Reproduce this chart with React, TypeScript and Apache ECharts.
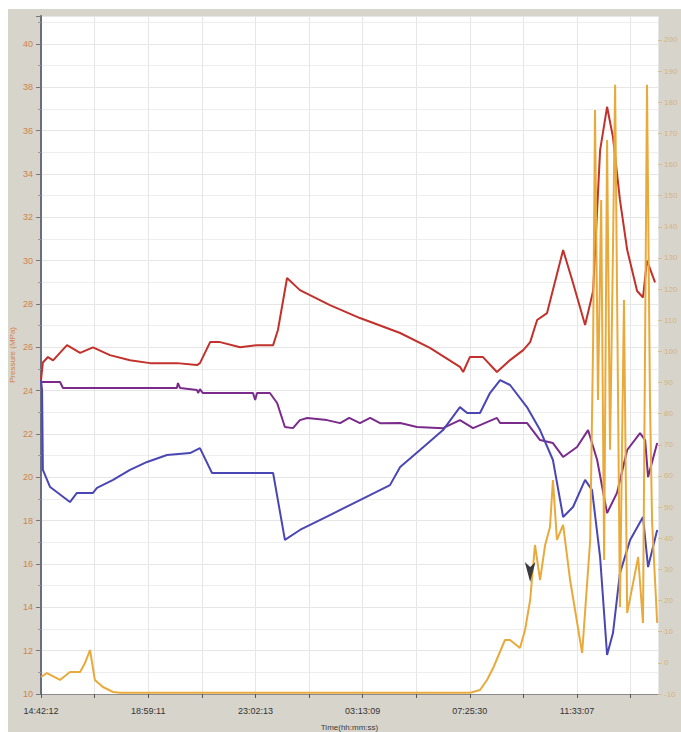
import React, { useEffect, useRef } from "react";
import * as echarts from "echarts";

// x values are elapsed hours from the first sample (each labelled tick = 4 h)
const timeLabels = ["14:42:12", "18:59:11", "23:02:13", "03:13:09", "07:25:30", "11:33:07"];

const redSeries: [number, number][] = [
  [0, 24.5], [0.07, 25.3], [0.26, 25.55], [0.45, 25.4], [0.97, 26.1], [1.46, 25.74], [1.94, 26.0],
  [2.57, 25.64], [3.32, 25.4], [4.07, 25.27], [5.07, 25.27], [5.82, 25.18], [5.93, 25.27],
  [6.31, 26.24], [6.68, 26.24], [7.43, 26.0], [8.06, 26.1], [8.66, 26.1], [8.84, 26.8],
  [9.18, 29.2], [9.66, 28.64], [10.78, 27.95], [11.9, 27.35], [13.4, 26.66], [14.51, 25.97],
  [15.63, 25.1], [15.75, 24.86], [16.0, 25.55], [16.49, 25.55], [17.01, 24.86], [17.5, 25.41],
  [17.99, 25.87], [18.25, 26.24], [18.51, 27.26], [18.88, 27.58], [19.48, 30.49], [19.85, 28.97],
  [20.3, 27.03], [20.6, 28.6], [20.86, 35.1], [21.12, 37.1], [21.34, 35.7], [21.6, 32.8],
  [21.87, 30.5], [22.24, 28.6], [22.46, 28.3], [22.61, 30.0], [22.91, 29.0],
];

const purpleSeries: [number, number][] = [
  [0, 24.4], [0.71, 24.4], [0.82, 24.12], [5.07, 24.12], [5.11, 24.35], [5.19, 24.12],
  [5.82, 24.03], [5.86, 23.89], [5.93, 24.07], [6.04, 23.89], [7.91, 23.89], [7.99, 23.57],
  [8.06, 23.89], [8.54, 23.89], [8.81, 23.43], [9.1, 22.32], [9.4, 22.27], [9.66, 22.64],
  [9.93, 22.74], [10.67, 22.64], [11.16, 22.5], [11.5, 22.74], [11.9, 22.5], [12.28, 22.74],
  [12.65, 22.5], [13.4, 22.51], [14.03, 22.32], [15.0, 22.27], [15.63, 22.64], [16.12, 22.27],
  [17.01, 22.74], [17.13, 22.51], [18.13, 22.51], [18.62, 21.72], [19.1, 21.58], [19.48, 20.94],
  [20.0, 21.4], [20.41, 22.18], [20.75, 20.8], [21.12, 18.35], [21.49, 19.28], [21.87, 21.26],
  [22.35, 22.04], [22.54, 21.72], [22.65, 20.01], [22.99, 21.58],
];

const blueSeries: [number, number][] = [
  [0, 24.5], [0.04, 24.0], [0.07, 20.34], [0.34, 19.55], [1.08, 18.86], [1.34, 19.28],
  [1.94, 19.28], [2.09, 19.51], [2.69, 19.88], [3.32, 20.34], [3.96, 20.71], [4.7, 21.03],
  [5.56, 21.12], [5.93, 21.35], [6.38, 20.2], [8.66, 20.2], [9.1, 17.11], [9.66, 17.57],
  [10.78, 18.26], [11.9, 18.95], [13.02, 19.64], [13.4, 20.48], [14.14, 21.26], [15.0, 22.18],
  [15.63, 23.24], [15.9, 22.97], [16.38, 22.97], [16.75, 23.89], [17.13, 24.49], [17.5, 24.26],
  [18.13, 23.24], [18.62, 22.18], [19.1, 20.8], [19.48, 18.17], [19.85, 18.63], [20.3, 19.88],
  [20.56, 19.41], [20.86, 16.32], [21.12, 11.8], [21.34, 12.81], [21.6, 15.58], [21.98, 17.11],
  [22.46, 18.17], [22.65, 15.86], [22.99, 17.57],
];

const orangeSeries: [number, number][] = [
  [0, -4.54], [0.22, -3.26], [0.71, -5.5], [1.08, -2.94], [1.46, -2.94], [1.64, -0.05],
  [1.83, 4.13], [2.01, -5.5], [2.31, -7.75], [2.69, -9.36], [2.95, -9.6], [16.01, -9.6],
  [16.38, -8.72], [16.64, -5.5], [16.87, -1.65], [17.31, 7.34], [17.5, 7.34], [17.87, 4.77],
  [18.06, 10.55], [18.25, 20.19], [18.43, 37.85], [18.62, 26.6], [18.81, 37.85], [18.99, 43.63],
  [19.1, 58.72], [19.25, 39.45], [19.48, 44.27], [19.74, 26.6], [20.19, 3.17], [20.49, 39.45],
  [20.6, 103.7], [20.67, 177.5], [20.78, 84.4], [20.9, 148.6], [21.01, 33.0], [21.12, 167.9],
  [21.23, 68.4], [21.34, 132.6], [21.42, 185.6], [21.53, 84.4], [21.6, 17.9], [21.75, 116.5],
  [21.87, 16.0], [22.09, 25.6], [22.28, 34.0], [22.46, 12.8], [22.61, 185.6], [22.72, 84.4],
  [22.8, 44.9], [22.99, 12.8],
];

const arrowMark: [number, number] = [18.25, 26];

export default function App() {
  const ref = useRef<HTMLDivElement>(null);
  useEffect(() => {
    if (!ref.current) return;
    const chart = echarts.init(ref.current, undefined, { renderer: "svg" });
    const font = "Liberation Sans";
    chart.setOption({
      animation: false,
      backgroundColor: "#d7d4cc",
      textStyle: { fontFamily: font },
      grid: {
        left: 33, right: 23, top: 7, bottom: 38,
        containLabel: false, outerBoundsMode: "none",
        show: true, backgroundColor: "#ffffff", borderWidth: 0,
      },
      xAxis: {
        type: "value", min: 0, max: 23.02, interval: 2,
        name: "Time(hh:mm:ss)", nameLocation: "middle", nameGap: 29, nameMoveOverlap: false,
        nameTextStyle: { color: "#3a3a3a", fontSize: 8, fontFamily: font },
        axisLine: { show: true, onZero: false, lineStyle: { color: "#8a8a90", width: 1 } },
        axisTick: { show: true, length: 4, lineStyle: { color: "#555" } },
        axisLabel: {
          color: "#333", fontSize: 9, margin: 12, showMaxLabel: false,
          formatter: (v: number) => {
            const i = Math.round(v / 2);
            return i % 2 === 0 ? timeLabels[i / 2] ?? "" : "";
          },
        },
        splitLine: { show: true, lineStyle: { color: "#e6e6e6", width: 1 } },
      },
      yAxis: [
        {
          type: "value", min: 10, max: 41.29, interval: 2, position: "left",
          name: "Pressure (MPa)", nameLocation: "middle", nameGap: 25, nameMoveOverlap: false,
          nameTextStyle: { color: "#d0834a", fontSize: 8, fontFamily: font },
          axisLine: { show: true, onZero: false, lineStyle: { color: "#6a6c80", width: 2 } },
          axisTick: { show: true, length: 5, lineStyle: { color: "#777" } },
          minorTick: { show: true, splitNumber: 2, length: 3, lineStyle: { color: "#999" } },
          axisLabel: { color: "#d0834a", fontSize: 9, margin: 8, showMaxLabel: false },
          splitLine: { show: true, lineStyle: { color: "#e6e6e6", width: 1 } },
          minorSplitLine: { show: true, lineStyle: { color: "#eeeeee", width: 1 } },
        },
        {
          type: "value", min: -10, max: 207.7, interval: 10, position: "right",
          axisLine: { show: false, onZero: false },
          axisTick: { show: true, length: 4, lineStyle: { color: "#d9bf8e" } },
          axisLabel: { color: "#d6b57c", fontSize: 8, margin: 6, showMaxLabel: false },
          splitLine: { show: false },
        },
      ],
      series: [
        {
          type: "line", yAxisIndex: 0, data: redSeries, showSymbol: false,
          lineStyle: { color: "#c2312b", width: 2 }, itemStyle: { color: "#c2312b" },
        },
        {
          type: "line", yAxisIndex: 0, data: purpleSeries, showSymbol: false,
          lineStyle: { color: "#7a2b8c", width: 2 }, itemStyle: { color: "#7a2b8c" },
        },
        {
          type: "line", yAxisIndex: 0, data: blueSeries, showSymbol: false,
          lineStyle: { color: "#4a46b4", width: 2 }, itemStyle: { color: "#4a46b4" },
        },
        {
          type: "line", yAxisIndex: 1, data: orangeSeries, showSymbol: false,
          lineStyle: { color: "#e9aa3c", width: 2 }, itemStyle: { color: "#e9aa3c" },
          markPoint: {
            silent: true,
            symbol: "arrow", symbolSize: [8, 20], symbolRotate: 180,
            itemStyle: { color: "#3a3a3a" },
            label: { show: false },
            data: [{ coord: arrowMark }],
          },
        },
      ],
    });
    return () => chart.dispose();
  }, []);
  return (
    <div style={{ position: "absolute", left: 0, top: 0, width: 681, height: 732, background: "#fff", overflow: "hidden" }}>
      <div ref={ref} style={{ position: "absolute", left: 8, top: 9, width: 673, height: 723 }} />
    </div>
  );
}
